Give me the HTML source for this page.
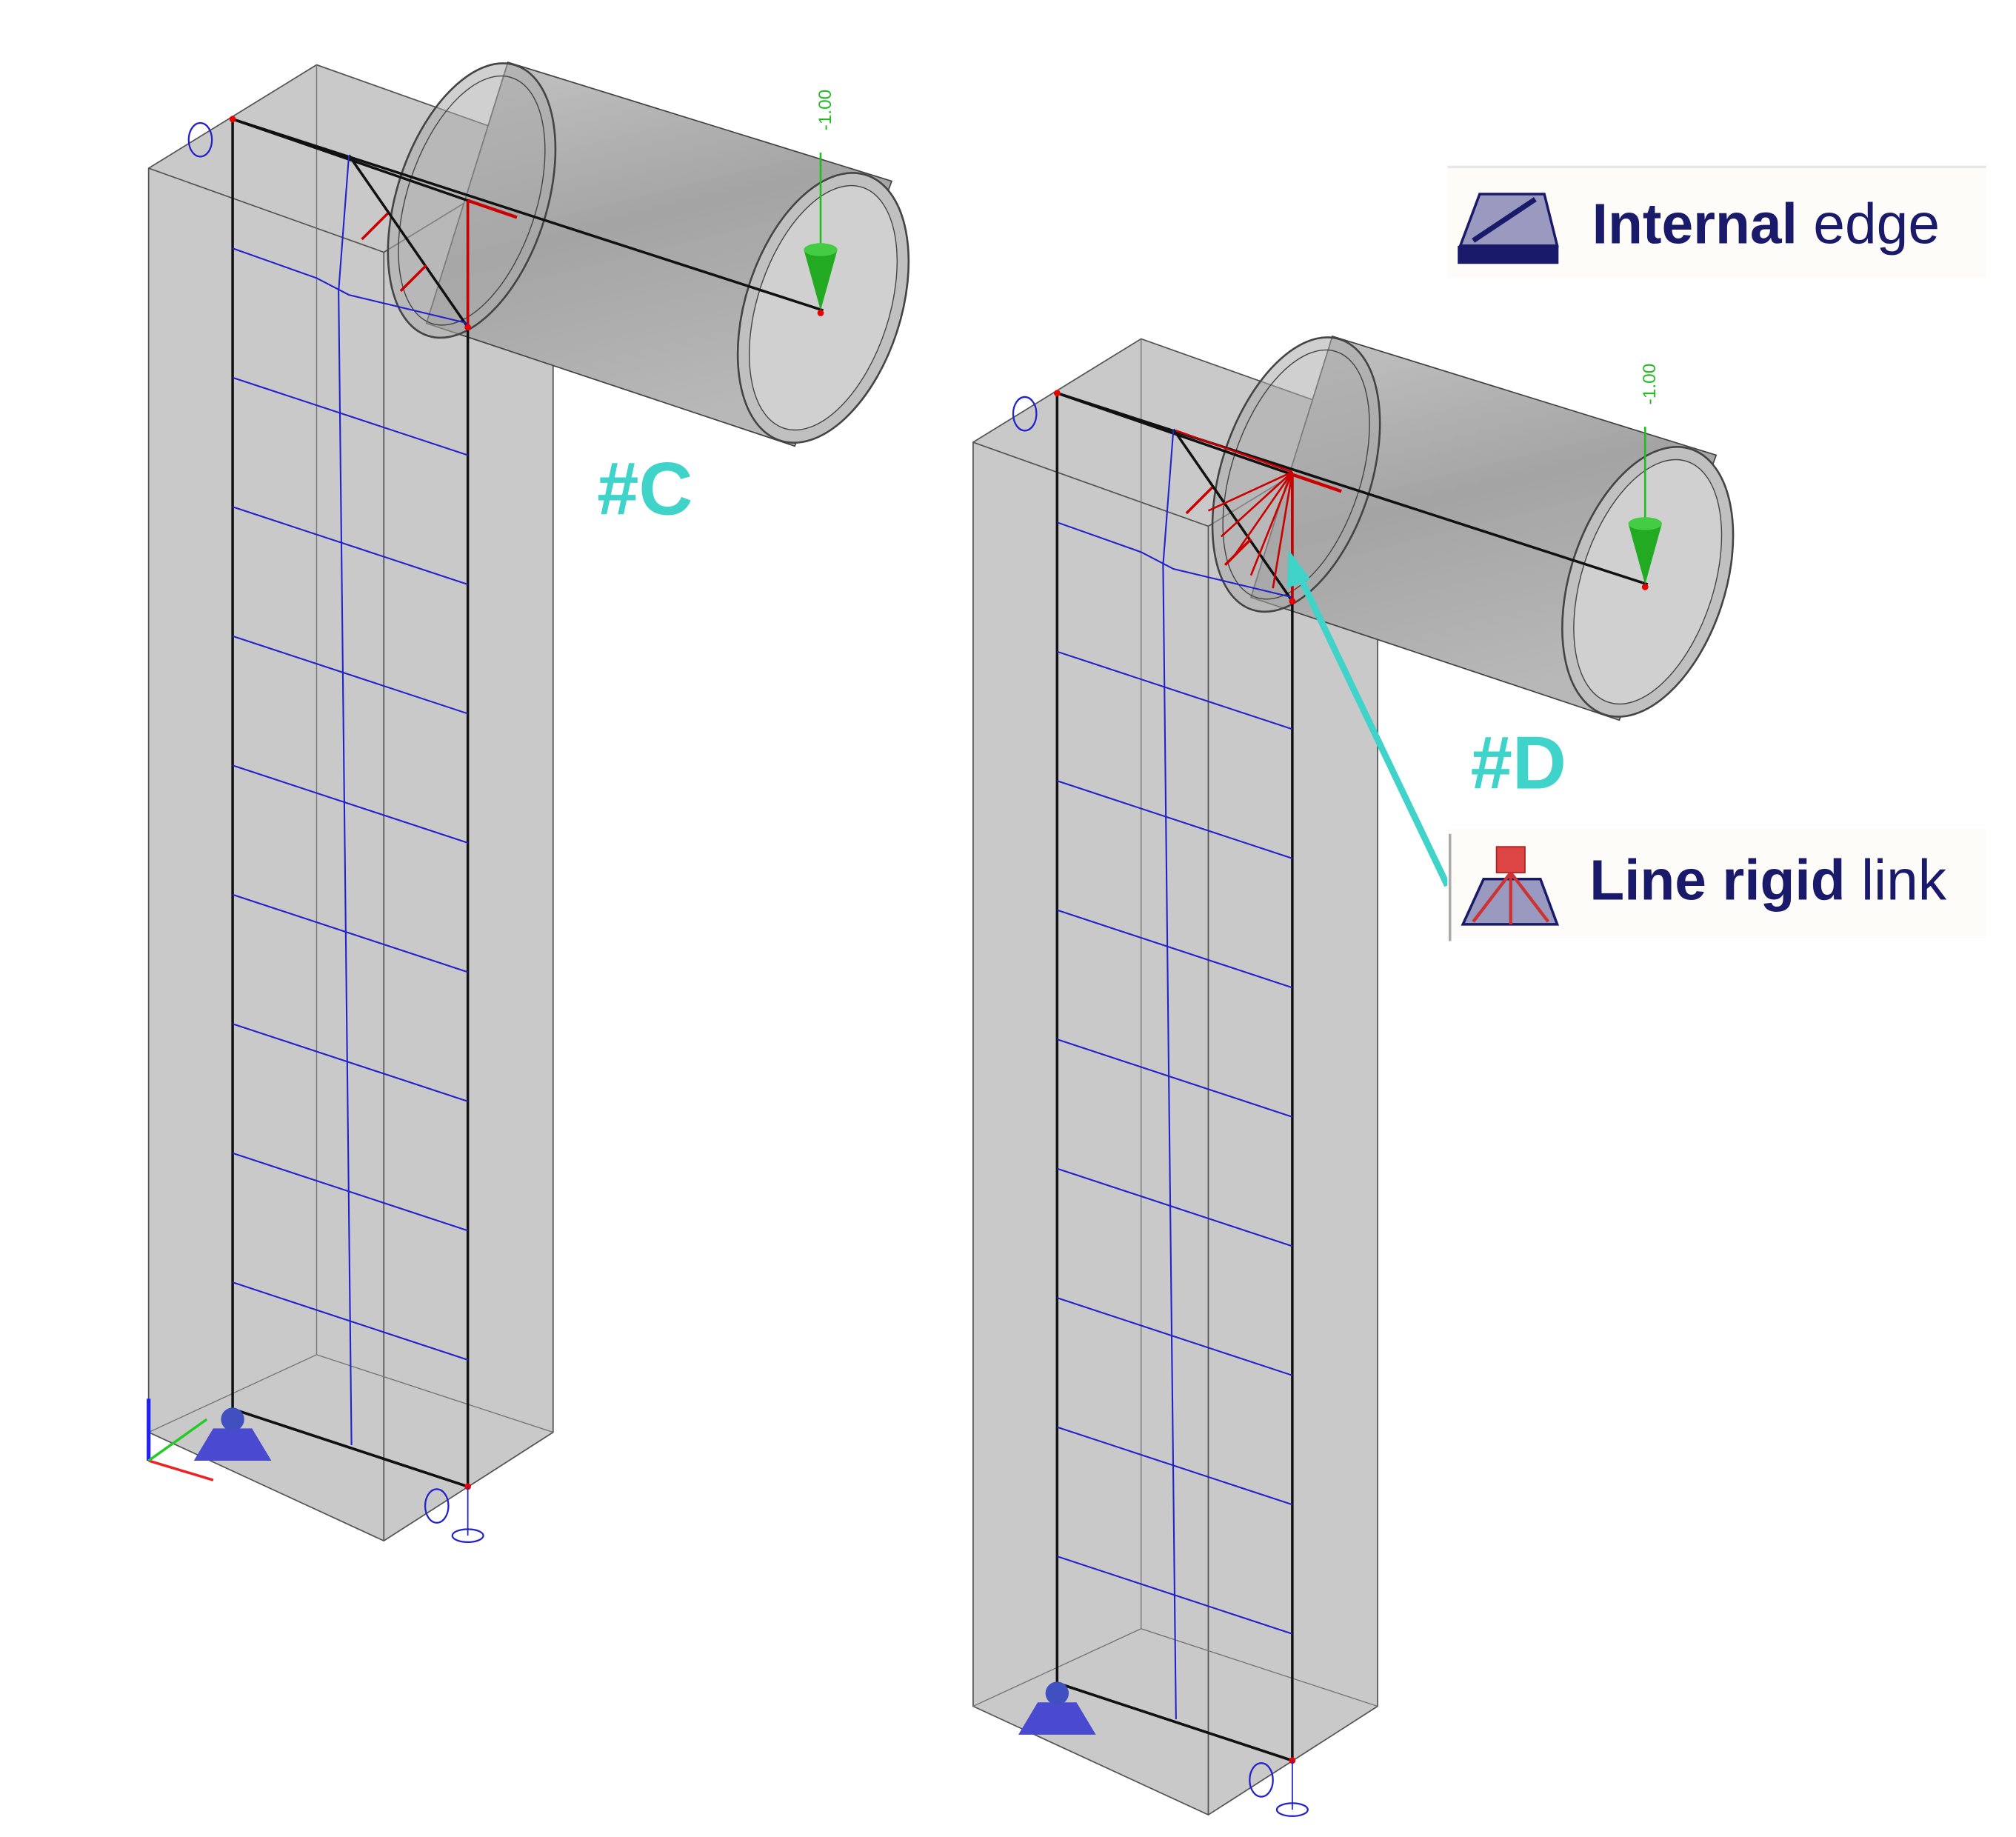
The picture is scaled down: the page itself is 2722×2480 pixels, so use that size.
<!DOCTYPE html>
<html><head><meta charset="utf-8"><style>html,body{margin:0;padding:0;background:#fff}svg{display:block}</style></head>
<body>
<svg width="2722" height="2480" viewBox="0 0 1560 1421" xmlns="http://www.w3.org/2000/svg">
<defs>
<linearGradient id="cyl" x1="0" y1="0" x2="0.3" y2="1">
<stop offset="0" stop-color="#c4c4c4"/><stop offset="0.5" stop-color="#a4a4a4"/><stop offset="1" stop-color="#b8b8b8"/></linearGradient>
<g id="col">
 <!-- box -->
 <polygon points="115,130 245,50 428,115 428,1108 297,1192 115,1108" fill="#c9c9c9" stroke="#555" stroke-width="1"/>
 <polyline points="115,130 297,195 428,115" fill="none" stroke="#555" stroke-width="1"/>
 <line x1="297" y1="195" x2="297" y2="1192" stroke="#555" stroke-width="1"/>
 <line x1="245" y1="50" x2="245" y2="1048" stroke="#777" stroke-width="0.8"/>
 <polyline points="115,1108 245,1048 428,1108" fill="none" stroke="#777" stroke-width="0.8"/>
 <!-- cylinder -->
 <polygon points="393,48 690,140 615,345 330,250" fill="url(#cyl)" stroke="#444" stroke-width="1"/>
 <ellipse cx="365" cy="155" rx="58" ry="110" transform="rotate(18 365 155)" fill="#aaa" fill-opacity="0.55" stroke="#444" stroke-width="1.5"/>
 <ellipse cx="365" cy="155" rx="50" ry="100" transform="rotate(18 365 155)" fill="none" stroke="#444" stroke-width="0.8"/>
 <ellipse cx="637" cy="238" rx="60" ry="108" transform="rotate(18 637 238)" fill="#c0c0c0" stroke="#444" stroke-width="1.5"/>
 <ellipse cx="637" cy="238" rx="51" ry="98" transform="rotate(18 637 238)" fill="#d0d0d0" stroke="#444" stroke-width="0.8"/>
 <!-- inner rect -->
 <polygon points="180,92 362,155 362,1150 180,1090" fill="none" stroke="#111" stroke-width="2"/>
 <line x1="180" y1="92" x2="637" y2="240" stroke="#111" stroke-width="2"/>
 <line x1="270" y1="120" x2="362" y2="253" stroke="#111" stroke-width="2"/>
 <line x1="362" y1="155" x2="362" y2="253" stroke="#c00" stroke-width="2"/>
 <line x1="362" y1="155" x2="400" y2="168" stroke="#c00" stroke-width="2.5"/>
 <line x1="280" y1="185" x2="300" y2="165" stroke="#c00" stroke-width="2"/>
 <line x1="310" y1="225" x2="330" y2="205" stroke="#c00" stroke-width="2"/>
 <!-- blue mesh -->
 <polyline points="180,192 245,215 270,228 362,250" fill="none" stroke="#22c" stroke-width="1.2"/>
 <polyline points="270,120 262,225 272,1118" fill="none" stroke="#22c" stroke-width="1.2"/>
 <g stroke="#22c" stroke-width="1.2">
 <line x1="180" y1="292" x2="362" y2="352"/><line x1="180" y1="392" x2="362" y2="452"/>
 <line x1="180" y1="492" x2="362" y2="552"/><line x1="180" y1="592" x2="362" y2="652"/>
 <line x1="180" y1="692" x2="362" y2="752"/><line x1="180" y1="792" x2="362" y2="852"/>
 <line x1="180" y1="892" x2="362" y2="952"/><line x1="180" y1="992" x2="362" y2="1052"/>
 </g>
 <line x1="180" y1="1090" x2="362" y2="1150" stroke="#111" stroke-width="2"/>
 <!-- load -->
 <line x1="635" y1="118" x2="635" y2="195" stroke="#2b2" stroke-width="1.5"/>
 <polygon points="622,193 648,193 635,240" fill="#2a2"/>
 <ellipse cx="635" cy="193" rx="13" ry="5" fill="#4c4"/>
 <circle cx="635" cy="242" r="2.5" fill="#e00"/>
 <circle cx="180" cy="92" r="2.5" fill="#e00"/><circle cx="362" cy="253" r="2.5" fill="#e00"/><circle cx="362" cy="1150" r="2.5" fill="#e00"/>
 <!-- supports -->
 <ellipse cx="155" cy="108" rx="9" ry="13" fill="none" stroke="#22c" stroke-width="1.3"/>
 <ellipse cx="338" cy="1165" rx="9" ry="13" fill="none" stroke="#22c" stroke-width="1.3"/>
 <ellipse cx="362" cy="1188" rx="12" ry="5" fill="none" stroke="#22c" stroke-width="1.3"/>
 <line x1="362" y1="1150" x2="362" y2="1188" stroke="#22c"/>
 <polygon points="165,1105 195,1105 210,1130 150,1130" fill="#4a4ad0"/>
 <circle cx="180" cy="1098" r="9" fill="#4050c0"/>
</g>
</defs>
<rect width="1560" height="1421" fill="#fff"/>
<use href="#col"/>
<use href="#col" transform="translate(638,212)"/>
<!-- axis triad left -->
<line x1="115" y1="1130" x2="115" y2="1082" stroke="#22e" stroke-width="3"/>
<line x1="115" y1="1130" x2="165" y2="1145" stroke="#e22" stroke-width="2"/>
<line x1="115" y1="1130" x2="160" y2="1098" stroke="#2c2" stroke-width="2"/>
<!-- rigid link extra lines right -->
<g stroke="#c00" stroke-width="1.5">
<line x1="1000" y1="365" x2="935" y2="395"/><line x1="1000" y1="365" x2="945" y2="415"/>
<line x1="1000" y1="365" x2="955" y2="430"/><line x1="1000" y1="365" x2="968" y2="445"/>
<line x1="1000" y1="365" x2="985" y2="455"/><line x1="910" y1="333" x2="1000" y2="365"/>
</g>
<!-- texts -->
<text x="643" y="85" transform="rotate(-90 643 85)" font-family="Liberation Sans, sans-serif" font-size="14" fill="#2b2" text-anchor="middle">-1.00</text>
<text x="1281" y="297" transform="rotate(-90 1281 297)" font-family="Liberation Sans, sans-serif" font-size="14" fill="#2b2" text-anchor="middle">-1.00</text>
<text x="462" y="398" font-family="Liberation Sans, sans-serif" font-weight="bold" font-size="58" fill="#3fd3c9">#C</text>
<text x="1138" y="610" font-family="Liberation Sans, sans-serif" font-weight="bold" font-size="58" fill="#3fd3c9">#D</text>
<line x1="1120" y1="685" x2="1003" y2="440" stroke="#3fd3c9" stroke-width="5"/>
<polygon points="997,425 1014,448 996,455" fill="#3fd3c9"/>
<!-- legends -->
<rect x="1120" y="130" width="417" height="85" fill="#fdfcf8"/>
<line x1="1120" y1="129" x2="1537" y2="129" stroke="#e8e8e8" stroke-width="2"/>
<polygon points="1145,150 1195,150 1205,190 1130,190" fill="#9a9ac0" stroke="#1a1a6a" stroke-width="2"/>
<rect x="1128" y="190" width="78" height="14" fill="#1a1a6a"/>
<line x1="1140" y1="186" x2="1188" y2="154" stroke="#1a1a6a" stroke-width="4"/>
<text x="1232" y="188" font-family="Liberation Sans, sans-serif" font-size="44" fill="#1a1a6a"><tspan font-weight="bold">Internal</tspan> edge</text>
<rect x="1120" y="641" width="417" height="85" fill="#fdfcf8"/>
<line x1="1122" y1="645" x2="1122" y2="728" stroke="#aaa" stroke-width="2"/>
<polygon points="1148,680 1192,680 1205,715 1132,715" fill="#9a9ac0" stroke="#1a1a6a" stroke-width="2"/>
<rect x="1158" y="655" width="22" height="20" fill="#d44" stroke="#a22"/>
<g stroke="#c33" stroke-width="2.5"><line x1="1169" y1="675" x2="1140" y2="713"/><line x1="1169" y1="675" x2="1198" y2="713"/><line x1="1169" y1="675" x2="1169" y2="715"/></g>
<text x="1230" y="696" font-family="Liberation Sans, sans-serif" font-size="44" fill="#1a1a6a"><tspan font-weight="bold">Line rigid</tspan> link</text>
</svg>
</body></html>
